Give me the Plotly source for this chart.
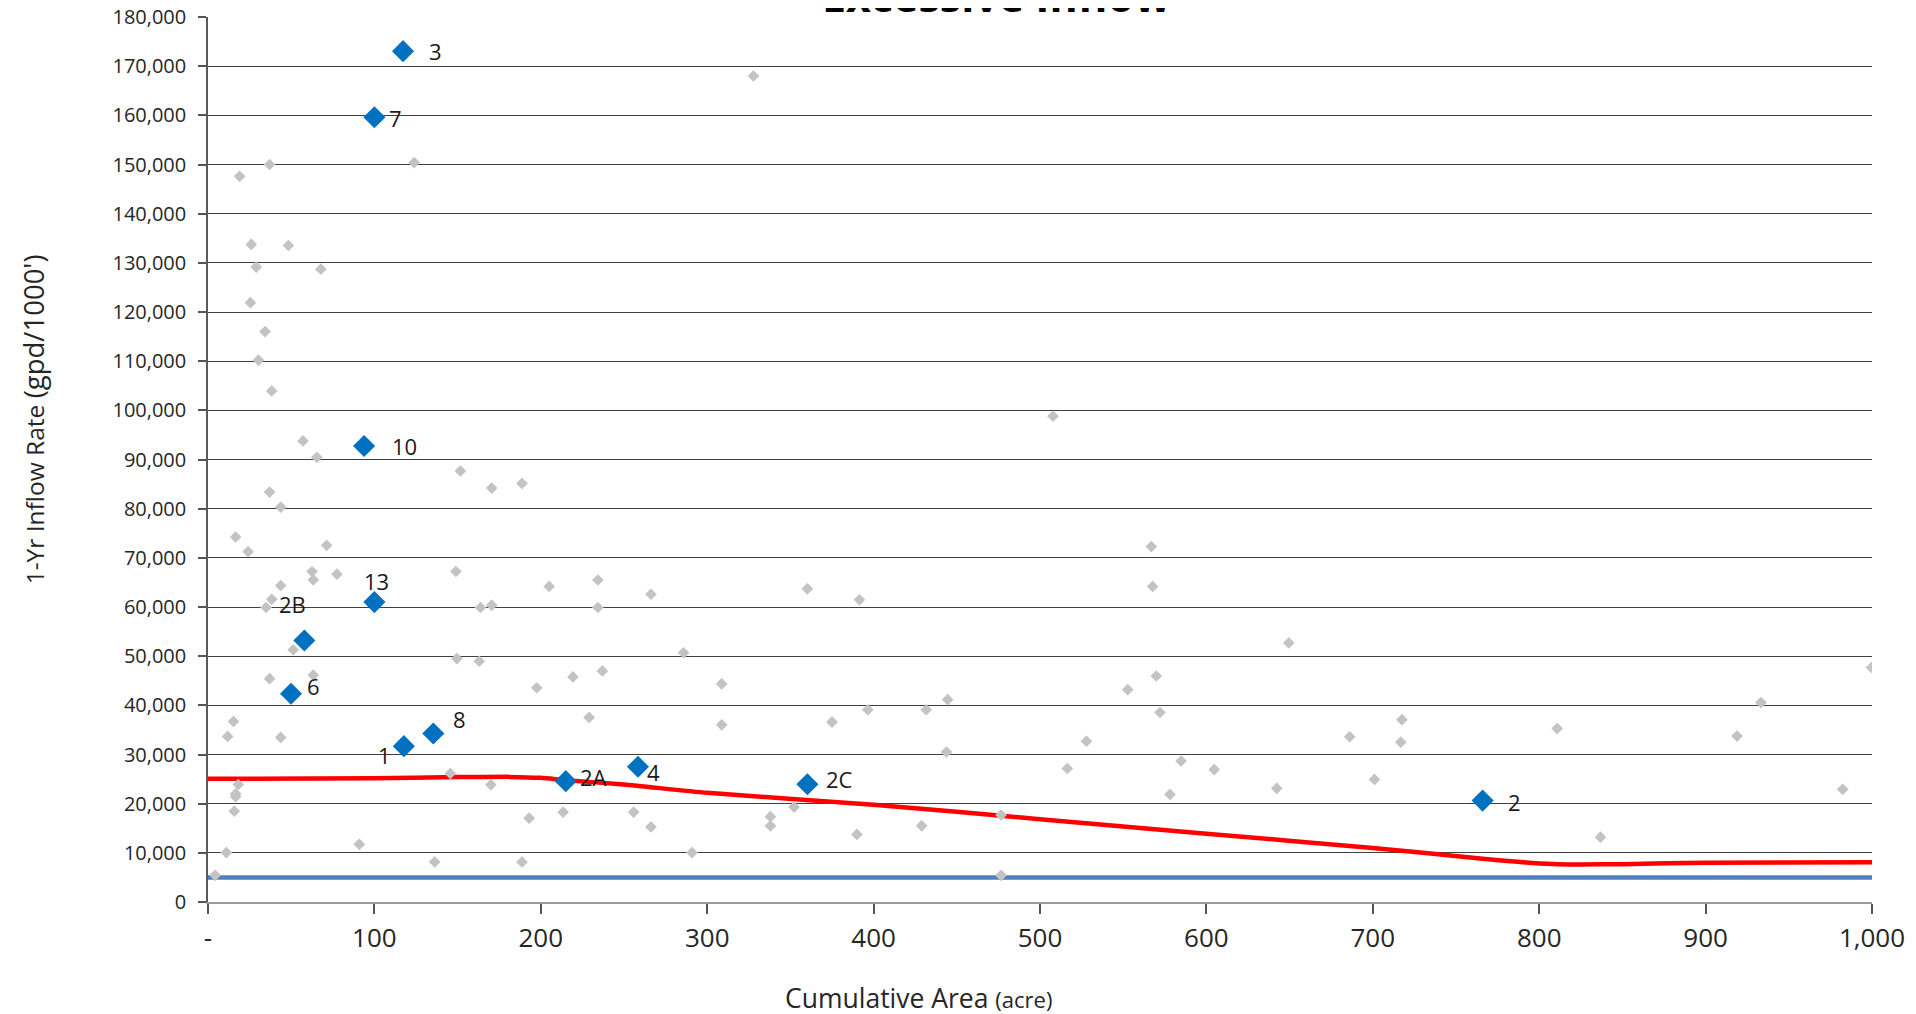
import plotly.graph_objects as go

# ---- data ----
site_names = ["3", "7", "10", "13", "2B", "6", "8", "1", "2A", "4", "2C", "2"]
site_area = [117.2, 100, 93.8, 100, 57.9, 49.9, 135.4, 117.7, 215, 258.4, 360.2, 766]
site_rate = [173050, 159600, 92750, 61000, 53200, 42360, 34280, 31700, 24580, 27500, 23960, 20625]
# label offsets in px (dx, dy up)
label_dx = [32, 21, 40, 2, -12, 22, 26, -19, 28, 16, 32, 32]
label_dy = [0, -1, 0, 21, 36, 8, 14, -9, 4, -5, 5, -1]

other_area = [19, 37, 123.9, 26, 48.3, 29, 67.8, 25.5, 34.3, 327.8, 507.8,
              30.3, 38.3, 57.1, 65.4, 151.7, 170.5, 188.7, 37, 43.7, 16.6, 24.1, 71.3,
              62.5, 63.3, 77.5, 43.7, 38.3, 34.9, 51.2, 149, 163.8, 170.5, 205, 234.3,
              234.3, 266.2, 149.6, 163, 219.3, 237, 285.8,
              4.3, 11, 11.8, 15.3, 18.2, 16.6, 16.6, 15.8, 37, 43.7, 63.3, 90.9, 136.2,
              145.6, 170, 188.7, 193, 197.6, 213.4, 229, 255.8, 266.2, 290.9,
              360.2, 391.5, 308.7, 308.7, 375, 396.5, 431.6, 444.5, 443.8, 352.2, 338,
              338, 390, 428.9, 476.6, 476.6, 566.9, 567.7, 569.9, 552.7, 572.1, 527.9,
              516.4, 584.8, 604.7, 578.1, 649.5, 642.3,
              686.1, 717.5, 716.8, 701, 810.8, 836.8, 918.9, 933.3, 982.4, 999.7]
other_rate = [147600, 150000, 150400, 133750, 133530, 129130, 128720, 121890, 116020, 168000, 98800,
              110200, 103930, 93780, 90450, 87660, 84180, 85140, 83380, 80310, 74240, 71250, 72540,
              67220, 65520, 66680, 64360, 61570, 59900, 51300, 67220, 59900, 60370, 64190, 65490,
              59900, 62590, 49520, 48970, 45770, 47000, 50680,
              5430, 10050, 33670, 36730, 23900, 22000, 21390, 18470, 45420, 33470, 46160, 11740, 8150,
              26140, 23830, 8150, 17040, 43580, 18260, 37540, 18260, 15270, 10050,
              63700, 61460, 44375, 36040, 36600, 39100, 39100, 41180, 30490, 19300, 17360,
              15490, 13750, 15490, 17700, 5420, 72290, 64170, 45970, 43190, 38540, 32700,
              27150, 28680, 26940, 21875, 52700, 23125,
              33610, 37080, 32500, 24930, 35280, 13190, 33750, 40560, 22920, 47700]

curve_area = [0, 100, 150, 180, 200, 215, 250, 300, 400, 500, 600, 700, 766, 800, 825, 850, 900, 1000]
curve_rate = [25050, 25190, 25400, 25450, 25250, 24780, 23900, 22200, 19800, 16850, 13900, 11000,
              8820, 7850, 7640, 7700, 8000, 8100]

base_area = [0, 1000]
base_rate = [5000, 5000]

x_ticks = [0, 100, 200, 300, 400, 500, 600, 700, 800, 900, 1000]
x_ticktext = ["-", "100", "200", "300", "400", "500", "600", "700", "800", "900", "1,000"]
y_ticks = list(range(0, 180001, 10000))

FONT = "Open Sans"

fig = go.Figure()
fig.add_trace(go.Scatter(x=base_area, y=base_rate, mode="lines",
                         line=dict(color="#4F81BD", width=4.5), hoverinfo="skip"))
fig.add_trace(go.Scatter(x=curve_area, y=curve_rate, mode="lines",
                         line=dict(color="#FF0000", width=4.5, shape="spline", smoothing=0.6),
                         hoverinfo="skip"))
fig.add_trace(go.Scatter(x=other_area, y=other_rate, mode="markers",
                         marker=dict(symbol="diamond", size=9, color="#C3C3C3")))
fig.add_trace(go.Scatter(x=site_area, y=site_rate, mode="markers",
                         marker=dict(symbol="diamond", size=17, color="#0070C0")))

for n, xa, ya, dx, dy in zip(site_names, site_area, site_rate, label_dx, label_dy):
    fig.add_annotation(x=xa, y=ya, xref="x", yref="y", text=n, showarrow=False,
                       xshift=dx, yshift=dy, xanchor="center", yanchor="middle",
                       font=dict(family=FONT, size=22, color="#1a1a1a"))

# page body has an 8px offset: figure pixel = screen pixel - 8
W, H = 1908, 1006
L, R, T, B = 200, 44, 8.5, 112
PW, PH = W - L - R, H - T - B
OFF = 8


def px_x(p):
    return (p - OFF - L) / PW


def px_y(p):
    return 1 - (p - OFF - T) / PH


fig.add_annotation(xref="paper", yref="paper", x=px_x(996), y=px_y(27),
                   text="<b>Excessive Inflow</b>", showarrow=False,
                   xanchor="center", yanchor="bottom",
                   font=dict(family=FONT, size=43, color="#000000"))
fig.add_annotation(xref="paper", yref="paper", x=px_x(33), y=px_y(419),
                   text="1-Yr Inflow Rate <span style='font-size:27.5px'>(gpd/1000')</span>",
                   textangle=-90, showarrow=False, xanchor="center", yanchor="middle",
                   font=dict(family=FONT, size=24.5, color="#262626"))
fig.add_annotation(xref="paper", yref="paper", x=px_x(918), y=px_y(998),
                   text="Cumulative Area <span style='font-size:22px'>(acre)</span>",
                   showarrow=False, xanchor="center", yanchor="middle",
                   font=dict(family=FONT, size=26.5, color="#262626"))

fig.update_layout(
    width=W, height=H,
    margin=dict(l=L, r=R, t=T, b=B, pad=0, autoexpand=False),
    paper_bgcolor="white", plot_bgcolor="white",
    showlegend=False,
    xaxis=dict(range=[0, 1000], tickvals=x_ticks, ticktext=x_ticktext, automargin=False,
               showgrid=False, zeroline=False, showline=True, linecolor="#9a9a9a", linewidth=2,
               ticks="outside", ticklen=10, tickcolor="#555555", tickwidth=1.5,
               ticklabelstandoff=2, ticklabeloverflow="allow",
               tickfont=dict(family=FONT, size=26, color="#262626")),
    yaxis=dict(range=[0, 180000], tickvals=y_ticks, tickformat=",d", automargin=False,
               showgrid=True, gridcolor="#404040", gridwidth=1.3,
               zeroline=False, showline=True, linecolor="#5a5a5a", linewidth=1.5,
               ticks="outside", ticklen=8, tickcolor="#555555", tickwidth=1.5,
               ticklabelstandoff=8, ticklabeloverflow="allow",
               tickfont=dict(family=FONT, size=20, color="#262626")),
)

fig.write_html("out.html")
